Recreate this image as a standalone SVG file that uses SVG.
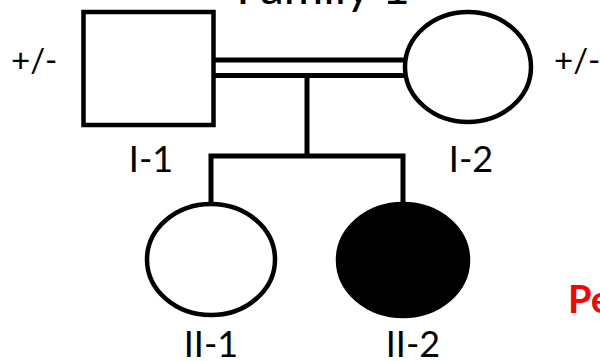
<svg xmlns="http://www.w3.org/2000/svg" width="600" height="361" viewBox="0 0 600 361">
<style>
.sym{fill:#fff;stroke:#000;stroke-width:4.5}
.aff{fill:#000;stroke:#000;stroke-width:4.5}
.ln{fill:none;stroke:#000;stroke-width:5;stroke-linecap:butt}
.lbl{font-family:Lato,"Open Sans","Liberation Sans",sans-serif;font-size:36px;fill:#000;text-anchor:middle}
.pm{font-family:Lato,"Open Sans","Liberation Sans",sans-serif;font-size:33px;fill:#000}
</style>
<rect width="600" height="361" fill="#fff"/>
<text x="323" y="4" class="lbl" style="font-size:48px">Family 1</text>
<g id="connectors">
<line class="ln" x1="214" y1="60" x2="404" y2="60"/>
<line class="ln" x1="214" y1="75.5" x2="404" y2="75.5"/>
<line class="ln" x1="307" y1="78" x2="307" y2="156"/>
<polyline class="ln" points="211,203 211,156 403,156 403,203"/>
</g>
<g id="I-1">
<rect class="sym" x="83.5" y="12" width="130" height="113"/>
<text x="151" y="172" class="lbl">I-1</text>
<text x="11" y="72" class="pm">+/-</text>
</g>
<g id="I-2">
<ellipse class="sym" cx="468" cy="67" rx="63" ry="55"/>
<text x="471" y="172" class="lbl">I-2</text>
<text x="554" y="72" class="pm">+/-</text>
</g>
<g id="II-1">
<ellipse class="sym" cx="211" cy="259.5" rx="64" ry="55.5"/>
<text x="211" y="357" class="lbl">II-1</text>
</g>
<g id="II-2">
<ellipse class="aff" cx="403" cy="260" rx="65" ry="56"/>
<text x="413" y="357" class="lbl">II-2</text>
</g>
<text x="568" y="313" style="font-family:Lato,'Open Sans','Liberation Sans',sans-serif;font-size:38px;font-weight:bold;fill:#ff0000">Pe</text>
</svg>
